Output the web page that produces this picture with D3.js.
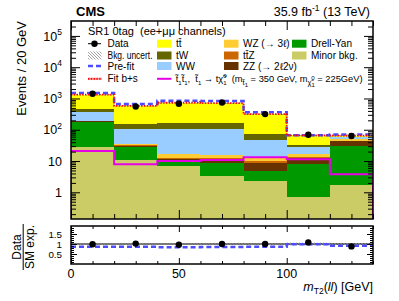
<!DOCTYPE html>
<html><head><meta charset="utf-8">
<script src="https://cdn.jsdelivr.net/npm/d3@7"></script>
<style>body{margin:0;background:#fff} svg{display:block;font-family:"Liberation Sans",Arial,Helvetica,sans-serif} text{white-space:pre}</style>
</head><body><svg id="c" width="399" height="301"></svg>
<script>
// ---------------- data ----------------
const binEdges   = [0, 20, 40, 60, 80, 100, 120, 140];
const binCenters = [10, 30, 50, 70, 90, 110, 130];
const minorBkg   = [29, 10.9, 7.0, 3.3, 2.35, 0.72, 1.7];
const drellYan   = [154, 18, 2.6, 5.6, 2.6, 7.4, 27.5];
const zzBkg      = [3, 2, 1.8, 2.4, 3.6, 4, 13];
const ttzBkg     = [2, 1, 0.9, 1, 1.2, 1.1, 2];
const wzBkg      = [5, 3, 4.6, 3.4, 2.6, 3.7, 7];
const wwBkg      = [190, 69, 87, 88, 35, 12, 8];
const twBkg      = [75, 47, 66, 66, 26, 4, 1];
const ttbarBkg   = [860, 432, 560, 540, 242, 33, 5];
const dataCounts = [1415, 555, 680, 745, 316, 69, 63];
const signalVals = [21, 7.9, 10, 10.8, 13.2, 11.4, 3.8];
const prefitTotal = [1500, 660, 850, 830, 365, 67, 70];
const uncertFrac  = [0.05, 0.05, 0.05, 0.05, 0.05, 0.07, 0.07];
const ratioData   = [0.99, 1.02, 0.96, 1.0, 1.0, 1.08, 0.88];
const ratioPrefit = [0.86, 0.86, 0.84, 0.85, 0.86, 0.99, 0.91];
const ratioUncert = [0.02, 0.02, 0.02, 0.03, 0.03, 0.07, 0.05];
const xTickLabels = [0, 50, 100];
const yTickMain   = [1, 10, 100, 1000, 10000, 100000];
const yTickRatio  = [0.5, 1, 1.5];

// ---------------- layout ----------------
const svg = d3.select("#c");
const L = 71, R = 373, T = 21, B = 219, RT = 226, RB = 264;
const x  = d3.scaleLinear().domain([0, 140]).range([L, R]);
const y  = d3.scaleLog().domain([0.14, 3.0e5]).range([B, T]);
const yr = d3.scaleLinear().domain([0, 1.9]).range([RB, RT]);

const defs = svg.append("defs");
defs.append("clipPath").attr("id", "clipMain").append("rect")
  .attr("x", L).attr("y", T).attr("width", R - L).attr("height", B - T);
defs.append("clipPath").attr("id", "clipRatio").append("rect")
  .attr("x", L).attr("y", RT).attr("width", R - L).attr("height", RB - RT);
const pat = defs.append("pattern").attr("id", "hatch").attr("patternUnits", "userSpaceOnUse")
  .attr("width", 3).attr("height", 3);
pat.append("path").attr("d", "M0,0 L3,3 M-1,2 L1,4 M2,-1 L4,1")
  .attr("stroke", "#8a8a8a").attr("stroke-width", 0.8);

// ---------------- stack ----------------
const keys = ["minor", "dy", "zz", "ttz", "wz", "ww", "tw", "tt"];
const colors = {minor: "#cccc66", dy: "#009900", zz: "#663300", ttz: "#cc6600",
                wz: "#ffcc33", ww: "#99ccff", tw: "#666600", tt: "#ffff00"};
const rows = binCenters.map((c, i) => ({
  i, minor: minorBkg[i], dy: drellYan[i], zz: zzBkg[i], ttz: ttzBkg[i],
  wz: wzBkg[i], ww: wwBkg[i], tw: twBkg[i], tt: ttbarBkg[i]}));
const stacked = d3.stack().keys(keys)(rows);
const totals = stacked[stacked.length - 1].map(d => d[1]);

const gMain = svg.append("g").attr("clip-path", "url(#clipMain)");
stacked.forEach(layer => {
  gMain.append("g").selectAll("rect").data(layer).join("rect")
    .attr("shape-rendering", "crispEdges")
    .attr("x", (d, i) => x(binEdges[i]))
    .attr("width", (d, i) => x(binEdges[i + 1]) - x(binEdges[i]))
    .attr("y", d => y(d[1]))
    .attr("height", d => (d[0] > 0 ? y(d[0]) : B) - y(d[1]))
    .attr("fill", colors[layer.key]);
});

function stepPts(vals) {
  const p = vals.map((v, i) => [binEdges[i], v]);
  p.push([binEdges[binEdges.length - 1], vals[vals.length - 1]]);
  return p;
}
const stepLine = sc => d3.line().x(d => x(d[0])).y(d => sc(d[1])).curve(d3.curveStepAfter);

// signal outline (with verticals down to the axis at both ends)
gMain.append("path").attr("d", stepLine(y)([[0, 0.01]].concat(stepPts(signalVals))))
  .attr("fill", "none").attr("stroke", "#e600e6").attr("stroke-width", 2);
gMain.append("line").attr("x1", x(140)).attr("x2", x(140))
  .attr("y1", y(signalVals[6])).attr("y2", B).attr("stroke", "#e600e6").attr("stroke-width", 2);

// uncertainty band
gMain.append("g").selectAll("rect").data(totals).join("rect")
  .attr("x", (d, i) => x(binEdges[i]))
  .attr("width", (d, i) => x(binEdges[i + 1]) - x(binEdges[i]))
  .attr("y", (d, i) => y(d * (1 + uncertFrac[i])))
  .attr("height", (d, i) => y(d * (1 - uncertFrac[i])) - y(d * (1 + uncertFrac[i])))
  .attr("fill", "url(#hatch)");

// prefit (blue dashed) and fit b+s (red dotted)
gMain.append("path").attr("d", stepLine(y)(stepPts(prefitTotal)))
  .attr("fill", "none").attr("stroke", "#4d4dff").attr("stroke-width", 2.5).attr("stroke-dasharray", "5,3");
gMain.append("path").attr("d", stepLine(y)(stepPts(totals)))
  .attr("fill", "none").attr("stroke", "#ff0000").attr("stroke-width", 1.8).attr("stroke-dasharray", "1.4,1.4");

// data points
const gData = svg.append("g");
dataCounts.forEach((n, i) => {
  const e = Math.sqrt(n);
  gData.append("line").attr("x1", x(binCenters[i])).attr("x2", x(binCenters[i]))
    .attr("y1", y(n + e)).attr("y2", y(n - e)).attr("stroke", "#000").attr("stroke-width", 1);
  gData.append("circle").attr("cx", x(binCenters[i])).attr("cy", y(n)).attr("r", 3.2).attr("fill", "#000");
});

// ---------------- main axes ticks ----------------
const minorLog = [];
for (let e = -1; e <= 5; e++) for (let m = 2; m <= 9; m++) {
  const v = m * Math.pow(10, e); if (v > 0.14 && v < 3.0e5) minorLog.push(v);
}
const xMinor = d3.range(0, 141, 10).filter(v => v % 50 !== 0);
function tickAxis(axis, tx, ty) {
  svg.append("g").attr("transform", `translate(${tx},${ty})`).call(axis)
    .call(g => g.select(".domain").remove())
    .call(g => g.selectAll("line").attr("stroke", "#000").attr("stroke-width", 1));
}
tickAxis(d3.axisLeft(y).tickValues(minorLog).tickSizeInner(-5).tickSizeOuter(0).tickFormat(""), L, 0);
tickAxis(d3.axisLeft(y).tickValues(yTickMain).tickSizeInner(-9).tickSizeOuter(0).tickFormat(""), L, 0);
tickAxis(d3.axisRight(y).tickValues(minorLog).tickSizeInner(-5).tickSizeOuter(0).tickFormat(""), R, 0);
tickAxis(d3.axisRight(y).tickValues(yTickMain).tickSizeInner(-9).tickSizeOuter(0).tickFormat(""), R, 0);
tickAxis(d3.axisBottom(x).tickValues(xMinor).tickSizeInner(-5).tickSizeOuter(0).tickFormat(""), 0, B);
tickAxis(d3.axisBottom(x).tickValues(xTickLabels).tickSizeInner(-9).tickSizeOuter(0).tickFormat(""), 0, B);
tickAxis(d3.axisTop(x).tickValues(xMinor).tickSizeInner(-5).tickSizeOuter(0).tickFormat(""), 0, T);
tickAxis(d3.axisTop(x).tickValues(xTickLabels).tickSizeInner(-9).tickSizeOuter(0).tickFormat(""), 0, T);

svg.append("rect").attr("x", L).attr("y", T).attr("width", R - L).attr("height", B - T)
  .attr("fill", "none").attr("stroke", "#000").attr("stroke-width", 1.5);

// y tick labels main
yTickMain.forEach(v => {
  const e = Math.round(Math.log10(v));
  const t = svg.append("text").attr("x", 62).attr("y", y(v) + 4.6)
    .attr("text-anchor", "end").attr("font-size", 12.5);
  if (e === 0) t.text("1");
  else if (e === 1) t.text("10");
  else {
    t.append("tspan").text("10");
    t.append("tspan").attr("dy", -5.5).attr("font-size", 8.5).text(e);
  }
});

// ---------------- ratio panel ----------------
const gRatio = svg.append("g").attr("clip-path", "url(#clipRatio)");
gRatio.append("g").selectAll("rect").data(ratioUncert).join("rect")
  .attr("x", (d, i) => x(binEdges[i]))
  .attr("width", (d, i) => x(binEdges[i + 1]) - x(binEdges[i]))
  .attr("y", d => yr(1 + d)).attr("height", d => yr(1 - d) - yr(1 + d))
  .attr("fill", "url(#hatch)");
gRatio.append("line").attr("x1", L).attr("x2", R).attr("y1", yr(1)).attr("y2", yr(1))
  .attr("stroke", "#000").attr("stroke-width", 1);
gRatio.append("path").attr("d", stepLine(yr)(stepPts(ratioPrefit)))
  .attr("fill", "none").attr("stroke", "#4d4dff").attr("stroke-width", 2.5).attr("stroke-dasharray", "5,3");
ratioData.forEach((r, i) => {
  const e = r / Math.sqrt(dataCounts[i]);
  gRatio.append("line").attr("x1", x(binCenters[i])).attr("x2", x(binCenters[i]))
    .attr("y1", yr(r + e)).attr("y2", yr(r - e)).attr("stroke", "#000");
  gRatio.append("circle").attr("cx", x(binCenters[i])).attr("cy", yr(r)).attr("r", 3.2).attr("fill", "#000");
});
const rMinor = d3.range(0.1, 1.85, 0.1).map(v => +v.toFixed(1)).filter(v => !yTickRatio.includes(v));
tickAxis(d3.axisLeft(yr).tickValues(rMinor).tickSizeInner(-3).tickSizeOuter(0).tickFormat(""), L, 0);
tickAxis(d3.axisLeft(yr).tickValues(yTickRatio).tickSizeInner(-6).tickSizeOuter(0).tickFormat(""), L, 0);
tickAxis(d3.axisRight(yr).tickValues(rMinor).tickSizeInner(-3).tickSizeOuter(0).tickFormat(""), R, 0);
tickAxis(d3.axisRight(yr).tickValues(yTickRatio).tickSizeInner(-6).tickSizeOuter(0).tickFormat(""), R, 0);
tickAxis(d3.axisBottom(x).tickValues(xMinor).tickSizeInner(-3).tickSizeOuter(0).tickFormat(""), 0, RB);
tickAxis(d3.axisBottom(x).tickValues(xTickLabels).tickSizeInner(-6).tickSizeOuter(0).tickFormat(""), 0, RB);
tickAxis(d3.axisTop(x).tickValues(xMinor).tickSizeInner(-3).tickSizeOuter(0).tickFormat(""), 0, RT);
tickAxis(d3.axisTop(x).tickValues(xTickLabels).tickSizeInner(-6).tickSizeOuter(0).tickFormat(""), 0, RT);
svg.append("rect").attr("x", L).attr("y", RT).attr("width", R - L).attr("height", RB - RT)
  .attr("fill", "none").attr("stroke", "#000").attr("stroke-width", 1.5);

yTickRatio.forEach(v => {
  svg.append("text").attr("x", 62).attr("y", yr(v) + 3.6).attr("text-anchor", "end")
    .attr("font-size", 9.8).text(v);
});
xTickLabels.forEach(v => {
  svg.append("text").attr("x", x(v)).attr("y", 278).attr("text-anchor", "middle")
    .attr("font-size", 12.5).text(v);
});

// ---------------- titles ----------------
const xt = svg.append("text").attr("x", R).attr("y", 291).attr("text-anchor", "end").attr("font-size", 12.5);
xt.append("tspan").attr("font-style", "italic").text("m");
xt.append("tspan").attr("dy", 3).attr("font-size", 8.5).text("T2");
xt.append("tspan").attr("dy", -3).text("(");
xt.append("tspan").attr("font-style", "italic").text("ll");
xt.append("tspan").text(") [GeV]");

svg.append("text").attr("transform", "translate(25.5,21) rotate(-90)").attr("text-anchor", "end")
  .attr("font-size", 13).text("Events / 20 GeV");

const rt = svg.append("g").attr("transform", "translate(0,247) rotate(-90)");
rt.append("text").attr("x", 0).attr("y", 20.5).attr("text-anchor", "middle").attr("font-size", 12).text("Data");
rt.append("line").attr("x1", -23).attr("x2", 23).attr("y1", 23.2).attr("y2", 23.2).attr("stroke", "#000").attr("stroke-width", 1);
rt.append("text").attr("x", 0).attr("y", 33.5).attr("text-anchor", "middle").attr("font-size", 12).text("SM exp.");

svg.append("text").attr("x", 76).attr("y", 15.5).attr("font-size", 13).attr("font-weight", "bold").text("CMS");
const lumi = svg.append("text").attr("x", 370).attr("y", 15.5).attr("text-anchor", "end").attr("font-size", 12.5);
lumi.append("tspan").text("35.9 fb");
lumi.append("tspan").attr("dy", -5).attr("font-size", 8.5).text("-1");
lumi.append("tspan").attr("dy", 5).text(" (13 TeV)");

svg.append("text").attr("x", 88).attr("y", 34.8).attr("font-size", 11).text("SR1 0tag  (ee+μμ channels)");

// ---------------- legend ----------------
const rowsY = [43.7, 55.5, 66, 78.8];
const lg = svg.append("g").attr("font-size", 10);
function boxEntry(cx, row, color, label) {
  lg.append("rect").attr("x", cx).attr("y", rowsY[row] - 4).attr("width", 14.5).attr("height", 8).attr("fill", color);
  lg.append("text").attr("x", cx + 19).attr("y", rowsY[row] + 3.6).text(label);
}
// column 1
lg.append("line").attr("x1", 88).attr("x2", 101).attr("y1", rowsY[0]).attr("y2", rowsY[0]).attr("stroke", "#000");
lg.append("circle").attr("cx", 94.5).attr("cy", rowsY[0]).attr("r", 3.2).attr("fill", "#000");
lg.append("text").attr("x", 107.5).attr("y", rowsY[0] + 3.6).text("Data");
lg.append("rect").attr("x", 88).attr("y", rowsY[1] - 4).attr("width", 13.5).attr("height", 8).attr("fill", "url(#hatch)");
lg.append("text").attr("x", 107.5).attr("y", rowsY[1] + 3.6).attr("textLength", 45).attr("lengthAdjust", "spacingAndGlyphs").text("Bkg. uncert.");
lg.append("line").attr("x1", 88).attr("x2", 102).attr("y1", rowsY[2]).attr("y2", rowsY[2])
  .attr("stroke", "#4d4dff").attr("stroke-width", 2.5).attr("stroke-dasharray", "5,3");
lg.append("text").attr("x", 107.5).attr("y", rowsY[2] + 3.6).text("Pre-fit");
lg.append("line").attr("x1", 88).attr("x2", 102).attr("y1", rowsY[3]).attr("y2", rowsY[3])
  .attr("stroke", "#ffaaaa").attr("stroke-width", 2.5);
lg.append("line").attr("x1", 88).attr("x2", 102).attr("y1", rowsY[3]).attr("y2", rowsY[3])
  .attr("stroke", "#ff0000").attr("stroke-width", 1.8).attr("stroke-dasharray", "1.4,1.4");
lg.append("text").attr("x", 107.5).attr("y", rowsY[3] + 3.6).text("Fit b+s");
// column 2
boxEntry(157, 0, colors.tt, "tt̄");
boxEntry(157, 1, colors.tw, "tW");
boxEntry(157, 2, colors.ww, "WW");
lg.append("line").attr("x1", 157).attr("x2", 171.5).attr("y1", rowsY[3]).attr("y2", rowsY[3])
  .attr("stroke", "#e600e6").attr("stroke-width", 2);
const sig = lg.append("text").attr("x", 175.7).attr("y", rowsY[3] + 3.3).attr("font-size", 9.3);
// modes: 0 normal, 1 subscript, 2 superscript, 3 subscript under previous superscript
const segs = [["t̃", 0], ["1", 1], ["t̃", 0], ["1", 1], [",  t̃", 0], ["1", 1], [" → tχ̃", 0], ["0", 2], ["1", 3],
              ["  (m", 0], ["t̃", 4], ["1", 5], [" = 350 GeV, m", 0], ["χ̃", 4], ["0", 6], ["1", 7], [" = 225GeV)", 0]];
const offs = {0: 0, 1: 2.5, 2: -4, 3: 2.5, 4: 2.5, 5: 4.5, 6: -2, 7: 5};
let cur = 0;
segs.forEach(([t, m]) => {
  const off = offs[m];
  const ts = sig.append("tspan").attr("dy", off - cur).text(t);
  if (m === 4) ts.attr("font-size", 7.5);
  else if (m !== 0) ts.attr("font-size", 6);
  if (m === 3 || m === 7) ts.attr("dx", -3.3);
  cur = off;
});
// column 3
boxEntry(224, 0, colors.wz, "WZ (→ 3ℓ)");
boxEntry(224, 1, colors.ttz, "tt̄Z");
boxEntry(224, 2, colors.zz, "ZZ (→ 2ℓ2ν)");
// column 4
boxEntry(292, 0, colors.dy, "Drell-Yan");
boxEntry(292, 1, colors.minor, "Minor bkg.");
</script></body></html>
